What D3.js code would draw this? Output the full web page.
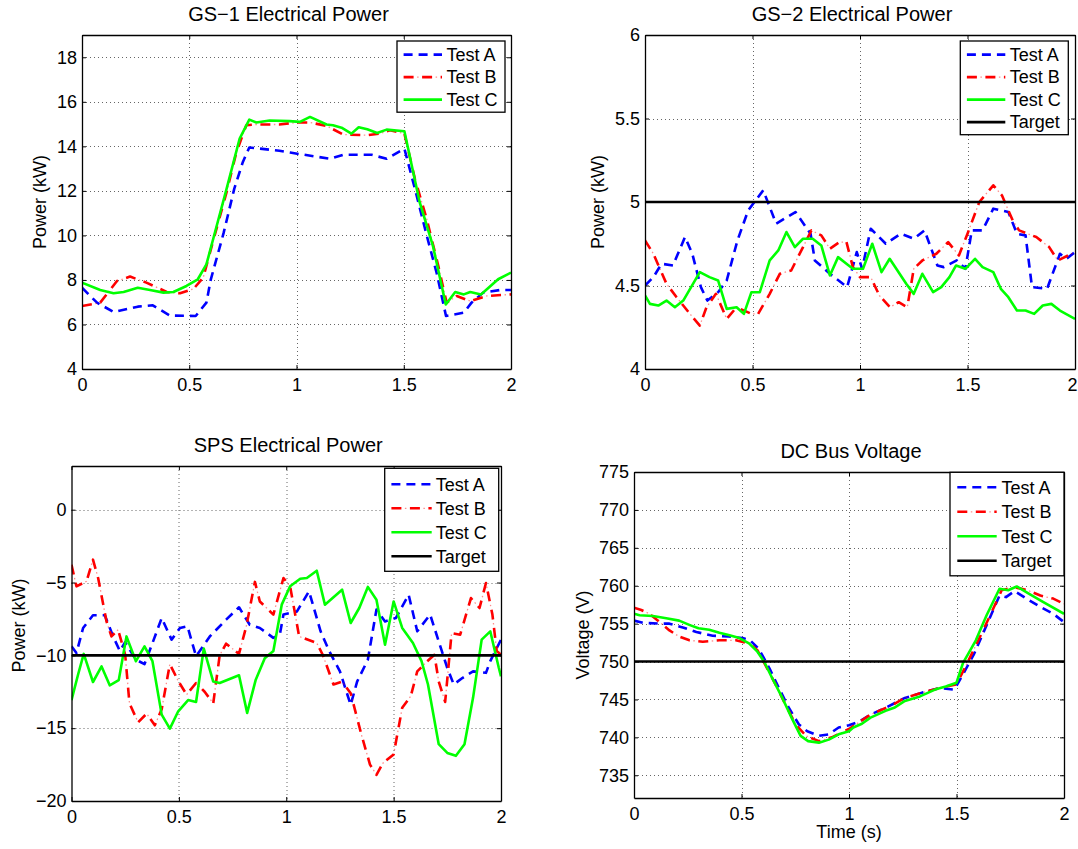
<!DOCTYPE html>
<html>
<head>
<meta charset="utf-8">
<script src="https://cdn.jsdelivr.net/npm/d3@7"></script>
<style>
  body { margin: 0; background: #fff; }
  svg { display: block; font-family: "Liberation Sans", Arial, sans-serif; }
</style>
</head>
<body>
<div id="chart"></div>
<script>
var xTickValues = [0, 0.5, 1, 1.5, 2];
var seriesNames = ['Test A', 'Test B', 'Test C'];
var targetName = 'Target';

// GS-1 electrical power (kW)
var gs1TestA = [[0,7.65],[0.07,6.98],[0.147,6.56],[0.26,6.8],[0.33,6.86],[0.41,6.4],[0.53,6.38],[0.58,6.98],[0.6,8.0],[0.66,10.1],[0.71,12.1],[0.75,13.3],[0.78,13.95],[0.92,13.8],[0.97,13.72],[1.156,13.44],[1.218,13.62],[1.35,13.62],[1.42,13.44],[1.503,13.9],[1.56,11.8],[1.607,10.0],[1.653,8.33],[1.697,6.38],[1.78,6.53],[1.816,6.98],[1.87,7.43],[1.95,7.55],[2.0,7.55]];
var gs1TestB = [[0,6.83],[0.085,6.98],[0.163,7.95],[0.224,8.15],[0.30,7.88],[0.395,7.46],[0.457,7.4],[0.52,7.6],[0.565,8.1],[0.61,9.7],[0.674,11.94],[0.72,13.74],[0.766,14.95],[0.81,14.98],[0.92,14.98],[1.0,15.07],[1.063,15.07],[1.14,14.92],[1.218,14.53],[1.327,14.5],[1.389,14.57],[1.436,14.72],[1.503,14.57],[1.552,12.54],[1.607,10.74],[1.661,8.63],[1.70,6.98],[1.747,7.28],[1.81,7.05],[1.887,7.28],[2.0,7.35]];
var gs1TestC = [[0,7.88],[0.085,7.55],[0.147,7.4],[0.194,7.46],[0.26,7.65],[0.317,7.55],[0.38,7.43],[0.426,7.46],[0.487,7.73],[0.54,8.03],[0.58,8.7],[0.62,10.14],[0.674,12.09],[0.735,14.35],[0.78,15.2],[0.813,15.07],[0.875,15.16],[0.967,15.13],[1.016,15.1],[1.063,15.32],[1.14,14.98],[1.17,14.95],[1.21,14.84],[1.256,14.57],[1.29,14.86],[1.33,14.77],[1.376,14.6],[1.42,14.75],[1.503,14.68],[1.574,11.5],[1.636,9.53],[1.696,6.9],[1.74,7.46],[1.78,7.35],[1.81,7.46],[1.86,7.35],[1.94,8.03],[2.0,8.33]];
var gs1YTicks = [4, 6, 8, 10, 12, 14, 16, 18];

// GS-2 electrical power (kW)
var gs2TestA = [[0,4.5],[0.039,4.55],[0.077,4.63],[0.13,4.62],[0.186,4.79],[0.22,4.69],[0.26,4.49],[0.29,4.41],[0.34,4.46],[0.38,4.53],[0.43,4.77],[0.48,4.95],[0.55,5.07],[0.61,4.87],[0.70,4.94],[0.77,4.81],[0.79,4.65],[0.86,4.57],[0.94,4.49],[0.985,4.70],[1.01,4.60],[1.05,4.84],[1.12,4.75],[1.19,4.81],[1.25,4.78],[1.30,4.83],[1.36,4.62],[1.39,4.61],[1.45,4.65],[1.49,4.60],[1.52,4.83],[1.57,4.83],[1.62,4.96],[1.69,4.94],[1.73,4.81],[1.77,4.80],[1.80,4.49],[1.87,4.48],[1.93,4.69],[1.96,4.66],[2.0,4.70]];
var gs2TestB = [[0,4.77],[0.039,4.69],[0.10,4.51],[0.147,4.43],[0.209,4.33],[0.255,4.26],[0.286,4.37],[0.33,4.45],[0.38,4.30],[0.426,4.37],[0.495,4.33],[0.526,4.33],[0.58,4.45],[0.627,4.57],[0.68,4.59],[0.735,4.73],[0.774,4.83],[0.82,4.80],[0.86,4.72],[0.905,4.76],[0.937,4.76],[0.967,4.61],[1.0,4.55],[1.05,4.55],[1.09,4.44],[1.14,4.37],[1.18,4.40],[1.22,4.37],[1.25,4.60],[1.29,4.65],[1.355,4.69],[1.41,4.76],[1.46,4.68],[1.50,4.81],[1.555,5.0],[1.62,5.10],[1.66,5.04],[1.71,4.89],[1.74,4.83],[1.82,4.79],[1.88,4.73],[1.92,4.65],[2.0,4.70]];
var gs2TestC = [[0,4.44],[0.023,4.39],[0.062,4.38],[0.10,4.41],[0.139,4.37],[0.178,4.41],[0.255,4.58],[0.30,4.55],[0.34,4.53],[0.38,4.36],[0.426,4.37],[0.46,4.33],[0.495,4.46],[0.534,4.46],[0.58,4.65],[0.62,4.71],[0.658,4.82],[0.697,4.73],[0.735,4.78],[0.78,4.78],[0.82,4.74],[0.86,4.56],[0.898,4.67],[0.937,4.63],[0.967,4.60],[1.014,4.60],[1.057,4.75],[1.10,4.58],[1.138,4.66],[1.215,4.51],[1.25,4.45],[1.29,4.57],[1.34,4.46],[1.378,4.49],[1.416,4.55],[1.447,4.62],[1.49,4.60],[1.535,4.66],[1.57,4.61],[1.62,4.58],[1.655,4.48],[1.69,4.43],[1.73,4.35],[1.77,4.35],[1.81,4.33],[1.85,4.38],[1.89,4.39],[1.93,4.35],[2.0,4.30]];
var gs2YTicks = [4, 4.5, 5, 5.5, 6];
var gs2Target = 5;

// SPS electrical power (kW)
var spsTestA = [[0,-9.38],[0.023,-9.84],[0.054,-8.12],[0.10,-7.25],[0.155,-7.25],[0.194,-8.7],[0.225,-9.7],[0.25,-9.1],[0.30,-10.3],[0.34,-10.6],[0.38,-9.04],[0.42,-7.44],[0.466,-8.92],[0.505,-8.12],[0.54,-8.0],[0.58,-10.07],[0.644,-8.7],[0.72,-7.55],[0.78,-6.7],[0.83,-7.9],[0.877,-8.12],[0.94,-8.8],[0.97,-8.58],[0.987,-7.2],[1.05,-6.98],[1.106,-5.6],[1.16,-8.35],[1.2,-9.7],[1.25,-11.1],[1.30,-13.4],[1.33,-11.8],[1.38,-10.3],[1.42,-6.86],[1.46,-7.67],[1.51,-7.44],[1.57,-5.84],[1.61,-8.35],[1.67,-7.2],[1.71,-9.04],[1.75,-10.87],[1.78,-12.0],[1.82,-11.56],[1.87,-11.1],[1.93,-11.2],[1.95,-10.4],[2.0,-8.92]];
var spsTestB = [[0,-3.78],[0.023,-5.26],[0.07,-4.92],[0.10,-3.43],[0.124,-4.69],[0.163,-7.67],[0.186,-8.7],[0.217,-8.24],[0.25,-9.96],[0.27,-13.3],[0.31,-14.6],[0.35,-14.0],[0.388,-14.8],[0.42,-13.7],[0.458,-10.6],[0.497,-11.76],[0.536,-12.7],[0.58,-11.9],[0.62,-12.5],[0.66,-13.3],[0.69,-10.0],[0.72,-9.2],[0.78,-9.9],[0.815,-7.94],[0.854,-4.96],[0.877,-6.3],[0.94,-7.2],[0.987,-4.69],[1.018,-5.26],[1.06,-8.7],[1.142,-9.15],[1.17,-9.96],[1.22,-12.0],[1.26,-11.8],[1.3,-12.6],[1.35,-15.45],[1.39,-17.5],[1.42,-18.2],[1.45,-17.4],[1.5,-16.8],[1.54,-13.6],[1.58,-12.8],[1.61,-11.1],[1.65,-10.5],[1.69,-9.96],[1.71,-11.8],[1.74,-13.2],[1.77,-8.47],[1.81,-8.58],[1.86,-6.07],[1.9,-6.75],[1.93,-5.03],[1.96,-7.2],[1.98,-9.7],[2.0,-9.96]];
var spsTestC = [[0,-13.07],[0.031,-11.3],[0.057,-9.9],[0.10,-11.83],[0.14,-10.76],[0.178,-12.06],[0.22,-11.7],[0.256,-8.7],[0.30,-10.4],[0.34,-9.38],[0.377,-10.4],[0.42,-14.07],[0.458,-15.03],[0.497,-13.84],[0.543,-13.07],[0.58,-13.2],[0.616,-9.54],[0.66,-11.8],[0.69,-11.9],[0.78,-11.37],[0.818,-13.95],[0.858,-11.67],[0.90,-10.2],[0.94,-9.7],[0.979,-6.52],[1.018,-5.26],[1.065,-4.74],[1.096,-4.69],[1.142,-4.19],[1.18,-6.52],[1.26,-5.49],[1.3,-7.78],[1.34,-6.75],[1.38,-5.3],[1.42,-6.18],[1.46,-9.27],[1.5,-6.3],[1.54,-8.12],[1.59,-9.15],[1.63,-10.4],[1.66,-12.0],[1.71,-16.1],[1.75,-16.7],[1.79,-16.9],[1.83,-16.1],[1.87,-12.9],[1.91,-8.92],[1.95,-8.35],[1.99,-10.87],[2.0,-11.44]];
var spsYTicks = [-20, -15, -10, -5, 0];
var spsTarget = -10;

// DC bus voltage (V)
var dcTestA = [[0,755.4],[0.042,755.1],[0.12,755.0],[0.165,755.0],[0.227,754.5],[0.29,753.9],[0.366,753.4],[0.44,753.3],[0.505,753.1],[0.54,752.8],[0.58,751.7],[0.63,749.1],[0.674,746.5],[0.72,743.9],[0.767,741.7],[0.806,740.8],[0.86,740.2],[0.906,740.4],[0.952,741.3],[1.0,741.6],[1.05,742.1],[1.1,743.0],[1.17,743.9],[1.26,745.2],[1.34,745.9],[1.42,746.5],[1.49,746.3],[1.53,748.3],[1.58,750.9],[1.64,754.8],[1.70,758.7],[1.73,758.5],[1.77,759.3],[1.825,758.3],[1.89,757.2],[1.95,756.3],[2.0,755.2]];
var dcTestB = [[0,757.1],[0.034,756.8],[0.072,756.3],[0.12,755.2],[0.165,754.1],[0.21,753.3],[0.258,752.8],[0.32,752.6],[0.397,752.8],[0.474,752.8],[0.535,752.4],[0.574,751.5],[0.61,749.6],[0.66,746.9],[0.705,744.3],[0.752,741.7],[0.80,740.2],[0.86,739.5],[0.92,740.0],[1.0,741.1],[1.1,743.0],[1.19,744.1],[1.26,745.2],[1.34,745.9],[1.42,746.5],[1.5,747.0],[1.55,749.8],[1.61,753.3],[1.66,756.3],[1.71,759.4],[1.77,759.8],[1.83,759.4],[1.89,758.7],[1.95,758.3],[2.0,757.6]];
var dcTestC = [[0,756.3],[0.026,756.1],[0.088,756.0],[0.15,755.7],[0.21,755.4],[0.26,754.8],[0.30,754.4],[0.35,754.2],[0.397,753.8],[0.44,753.5],[0.49,753.1],[0.535,752.4],[0.574,751.3],[0.605,750.0],[0.643,747.8],[0.69,745.2],[0.736,742.4],[0.775,740.2],[0.81,739.5],[0.86,739.3],[0.906,739.7],[0.952,740.4],[1.0,740.8],[1.02,741.3],[1.06,741.8],[1.1,742.6],[1.17,743.5],[1.21,743.9],[1.26,744.8],[1.33,745.4],[1.4,746.3],[1.45,746.7],[1.5,747.2],[1.53,749.8],[1.59,752.8],[1.64,756.1],[1.70,759.6],[1.74,759.4],[1.78,759.9],[1.84,758.9],[1.90,757.9],[2.0,756.3]];
var dcYTicks = [735, 740, 745, 750, 755, 760, 765, 770, 775];
var dcTarget = 750;

var width = 1078, height = 849;

// line styles for Test A, Test B, Test C, Target
var lineStyles = [
  { color: '#0000ff', dash: '9,6' },
  { color: '#ff0000', dash: '10,8.5', dots: '0,13.5,1.5,3.5' },
  { color: '#00ff00', dash: null },
  { color: '#000000', dash: null }
];

var panels = [
  { title: 'GS\u22121 Electrical Power', titleDx: -8, series: [gs1TestA, gs1TestB, gs1TestC], target: null,
    yDomain: [4, 19], yTicks: gs1YTicks, ylabel: 'Power (kW)', ylabelX: 40,
    box: { left: 82, top: 35, right: 511, bottom: 369 },
    legend: { inset: 6, top: 6, width: 108, rowH: 22.5, padTop: 13.6, padBottom: 12.6, sample: [6.6, 45], textX: 49.5 } },
  { title: 'GS\u22122 Electrical Power', titleDx: -8, series: [gs2TestA, gs2TestB, gs2TestC], target: gs2Target,
    yDomain: [4, 6], yTicks: gs2YTicks, ylabel: 'Power (kW)', ylabelX: 598,
    box: { left: 645, top: 35, right: 1075, bottom: 369 },
    legend: { inset: 6.7, top: 6, width: 108, rowH: 22.5, padTop: 13.6, padBottom: 12.6, sample: [6.6, 45], textX: 49.5 } },
  { title: 'SPS Electrical Power', titleDx: 2, series: [spsTestA, spsTestB, spsTestC], target: spsTarget,
    yDomain: [-20, 3], yTicks: spsYTicks, ylabel: 'Power (kW)', ylabelX: 19, ylabelDy: -8,
    box: { left: 71.5, top: 466, right: 501, bottom: 801 },
    legend: { inset: 2.3, top: 2.3, width: 114, rowH: 24, padTop: 16, padBottom: 15, sample: [6.7, 47], textX: 51 } },
  { title: 'DC Bus Voltage', titleDx: 2, series: [dcTestA, dcTestB, dcTestC], target: dcTarget,
    yDomain: [732, 775], yTicks: dcYTicks, ylabel: 'Voltage (V)', ylabelX: 583, xlabel: 'Time (s)',
    box: { left: 634, top: 472, right: 1064, bottom: 798 },
    legend: { inset: 0, top: 0.3, width: 114, rowH: 24.5, padTop: 15, padBottom: 15, sample: [7.3, 46.7], textX: 51.5 } }
];

var svg = d3.select('#chart')
            .append('svg')
              .attr('width', width)
              .attr('height', height);

var fmt = d3.format('');

function drawPanel(p, idx) {
  var w = p.box.right - p.box.left,
      h = p.box.bottom - p.box.top;
  var x = d3.scaleLinear().domain([0, 2]).range([0, w]);
  var y = d3.scaleLinear().domain(p.yDomain).range([h, 0]);

  var g = svg.append('g')
             .attr('transform', 'translate(' + p.box.left + ',' + p.box.top + ')');

  g.append('clipPath')
     .attr('id', 'clip' + idx)
   .append('rect')
     .attr('width', w)
     .attr('height', h);

  // dotted grid
  var grid = g.append('g').attr('class', 'grid')
              .attr('stroke', '#666')
              .attr('stroke-width', 1)
              .attr('stroke-dasharray', '1,3');
  grid.selectAll('.gx')
      .data(xTickValues.filter(function(d) { return d > 0 && d < 2; }))
      .enter().append('line')
        .attr('x1', function(d) { return Math.round(x(d)) + 0.5; })
        .attr('x2', function(d) { return Math.round(x(d)) + 0.5; })
        .attr('y1', 0).attr('y2', h);
  grid.selectAll('.gy')
      .data(p.yTicks.filter(function(d) { return d > p.yDomain[0] && d < p.yDomain[1]; }))
      .enter().append('line')
        .attr('y1', function(d) { return Math.round(y(d)) + 0.5; })
        .attr('y2', function(d) { return Math.round(y(d)) + 0.5; })
        .attr('x1', 0).attr('x2', w);

  // data lines
  var line = d3.line()
               .x(function(d) { return x(d[0]); })
               .y(function(d) { return y(d[1]); });
  var plot = g.append('g').attr('clip-path', 'url(#clip' + idx + ')');
  var all = p.series.slice();
  if (p.target !== null) all.push([[0, p.target], [2, p.target]]);
  all.forEach(function(s, i) {
    var st = lineStyles[i];
    plot.append('path')
        .datum(s)
        .attr('d', line)
        .attr('fill', 'none')
        .attr('stroke', st.color)
        .attr('stroke-width', 2.6)
        .attr('stroke-linejoin', 'round')
        .attr('stroke-dasharray', st.dash);
    if (st.dots) {
      plot.append('path')
          .datum(s)
          .attr('d', line)
          .attr('fill', 'none')
          .attr('stroke', st.color)
          .attr('stroke-opacity', 0.45)
          .attr('stroke-width', 1.3)
          .attr('stroke-dasharray', st.dots);
    }
  });

  // axes with inward ticks on all four sides
  var tickLen = 4;
  var bottomAxis = g.append('g')
     .attr('transform', 'translate(0,' + h + ')')
     .call(d3.axisBottom(x).tickValues(xTickValues).tickFormat(fmt)
             .tickSizeInner(-tickLen).tickSizeOuter(0).tickPadding(9));
  g.append('g')
     .call(d3.axisTop(x).tickValues(xTickValues).tickFormat('')
             .tickSizeInner(-tickLen).tickSizeOuter(0));
  g.append('g')
     .call(d3.axisLeft(y).tickValues(p.yTicks).tickFormat(fmt)
             .tickSizeInner(-tickLen).tickSizeOuter(0).tickPadding(5));
  g.append('g')
     .attr('transform', 'translate(' + w + ',0)')
     .call(d3.axisRight(y).tickValues(p.yTicks).tickFormat('')
             .tickSizeInner(-tickLen).tickSizeOuter(0));

  g.selectAll('.domain').attr('stroke', '#000').attr('stroke-width', 1.3);
  g.selectAll('.tick line').attr('stroke', '#000');
  g.selectAll('.tick text')
     .attr('fill', '#000')
     .style('font-size', '18px')
     .style('font-family', '"Liberation Sans", Arial, sans-serif');

  // keep the last x label inside the page when the axis ends at the edge
  if (p.box.right + 6 > width) {
    bottomAxis.selectAll('.tick:last-of-type text')
              .attr('text-anchor', 'end')
              .attr('x', width - 1 - p.box.right);
  }

  // title and labels
  g.append('text')
     .attr('x', w / 2 + (p.titleDx || 0))
     .attr('y', -14)
     .attr('text-anchor', 'middle')
     .style('font-size', '20px')
     .text(p.title);

  svg.append('text')
     .attr('transform', 'translate(' + p.ylabelX + ',' + (p.box.top + h / 2 + (p.ylabelDy || 0)) + ') rotate(-90)')
     .attr('text-anchor', 'middle')
     .attr('dy', '0.35em')
     .style('font-size', '18px')
     .text(p.ylabel);

  if (p.xlabel) {
    g.append('text')
       .attr('x', w / 2)
       .attr('y', h + 40)
       .attr('text-anchor', 'middle')
       .style('font-size', '18px')
       .text(p.xlabel);
  }

  // legend
  var L = p.legend;
  var names = seriesNames.slice();
  if (p.target !== null) names.push(targetName);
  var lh = L.padTop + (names.length - 1) * L.rowH + L.padBottom;
  var legend = g.append('g')
                .attr('transform', 'translate(' + (w - L.inset - L.width) + ',' + L.top + ')');
  legend.append('rect')
        .attr('width', L.width)
        .attr('height', lh)
        .attr('fill', '#fff')
        .attr('stroke', '#000')
        .attr('stroke-width', 1.3);
  var key = legend.selectAll('.legend-key')
                  .data(names)
                  .enter()
                  .append('g')
                  .attr('class', 'legend-key')
                  .attr('transform', function(d, i) {
                    return 'translate(0,' + (L.padTop + i * L.rowH) + ')';
                  });
  key.append('line')
     .attr('x1', L.sample[0]).attr('x2', L.sample[1])
     .attr('stroke', function(d, i) { return lineStyles[i].color; })
     .attr('stroke-width', 2.6)
     .attr('stroke-dasharray', function(d, i) { return lineStyles[i].dash; });
  key.filter(function(d, i) { return !!lineStyles[i].dots; })
     .append('line')
     .attr('x1', L.sample[0]).attr('x2', L.sample[1])
     .attr('stroke', lineStyles[1].color)
     .attr('stroke-opacity', 0.45)
     .attr('stroke-width', 1.3)
     .attr('stroke-dasharray', lineStyles[1].dots);
  key.append('text')
     .attr('x', L.textX)
     .attr('dy', '0.35em')
     .style('font-size', '18px')
     .text(function(d) { return d; });
}

panels.forEach(drawPanel);
</script>
</body>
</html>
